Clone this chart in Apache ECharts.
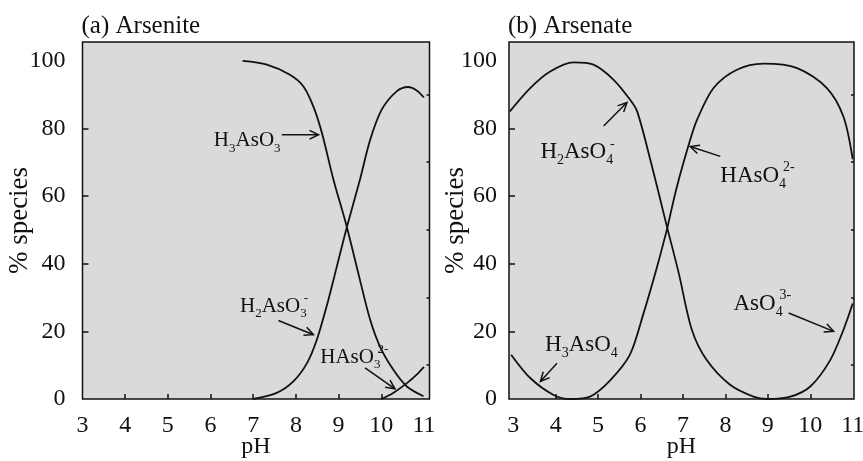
<!DOCTYPE html>
<html><head><meta charset="utf-8">
<script src="https://cdn.jsdelivr.net/npm/echarts@6/dist/echarts.min.js"></script>
<style>html,body{margin:0;padding:0;background:#fff}#c{width:863px;height:461px}</style>
</head><body><div id="c"></div>
<script>
const FONT = '"Liberation Serif", "Times New Roman", serif';
const INK = '#111';

// tick values
const xTickLabels = [3, 4, 5, 6, 7, 8, 9, 10, 11];
const xTickMarks = [4, 5, 6, 7, 8, 9, 10];
const yTickLabels = [0, 20, 40, 60, 80, 100];
const yMajorTicks = [20, 40, 60, 80];
const yMinorTicks = [10, 30, 50, 70, 90];

// (a) Arsenite  [pH, % species]
const h3aso3 = [[6.75,99.9],[7.32,98.8],[7.86,95.8],[8.18,92.3],[8.41,86.4],[8.61,78.6],[8.88,64.8],[9.19,51.0],[9.50,35.2],[9.74,23.4],[9.97,15.5],[10.28,8.7],[10.60,3.7],[10.99,0.8]];
const h2aso3 = [[7.0,0],[7.55,1.8],[7.94,5.2],[8.26,10.6],[8.49,17.5],[8.72,27.4],[8.96,39.2],[9.19,50.6],[9.50,64.8],[9.74,76.6],[10.01,85.5],[10.36,90.9],[10.63,92.2],[10.83,91.2],[11.0,89.1]];
const haso3 = [[10.0,0],[10.28,1.8],[10.6,4.7],[10.83,7.2],[11.0,9.5]];

// (b) Arsenate  [pH, % species]
const h2aso4 = [[2.92,85.0],[3.40,91.9],[3.87,96.8],[4.42,99.5],[4.89,98.8],[5.36,94.4],[5.75,88.5],[5.92,85.0],[6.23,70.7],[6.63,50.5]];
const haso4 = [[6.63,50.5],[6.86,62.9],[7.17,76.6],[7.33,82.5],[7.72,91.9],[8.27,97.3],[8.90,99.1],[9.69,97.8],[10.39,91.9],[10.78,83.5],[11.0,70.9]];
const h3aso4 = [[2.95,13.1],[3.40,6.2],[3.95,1.2],[4.34,0],[4.81,0.7],[5.29,5.6],[5.75,13.1],[6.07,25.3],[6.39,39.1],[6.63,50.5]];
const aso4 = [[6.63,50.5],[6.90,37.2],[7.21,20.4],[7.56,11.5],[8.11,4.2],[8.66,0.7],[8.98,0],[9.53,0.7],[10.0,3.7],[10.47,11.5],[10.78,20.4],[11.0,28.2]];

// species labels: tokens m = normal, s = subscript, p = superscript
const labelPanel = [0, 0, 0, 1, 1, 1, 1];
const labelText = [
  '{m|H}{s|3}{m|AsO}{s|3}',
  '{m|H}{s|2}{m|AsO}{s|3}{p|-}',
  '{m|HAsO}{s|3}{p|2-}',
  '{m|H}{s|2}{m|AsO}{s|4}{p|-}',
  '{m|HAsO}{s|4}{p|2-}',
  '{m|H}{s|3}{m|AsO}{s|4}',
  '{m|AsO}{s|4}{p|3-}'
];
const labelAt = [[7.64,76.3],[6.69,27.4],[8.57,12.3],[3.64,72.9],[7.88,66.0],[3.75,16.0],[8.19,28.2]];
const labelAlign = ['right','left','left','left','left','left','left'];
// arrows: tail -> head
const arrowPanel = [0, 0, 0, 1, 1, 1, 1];
const arrowFrom = [[7.67,78.1],[7.59,23.2],[9.62,9.2],[5.13,80.7],[7.88,71.7],[4.03,10.6],[9.49,25.4]];
const arrowTo = [[8.53,78.1],[8.41,19.0],[10.32,3.0],[5.68,87.6],[7.17,74.6],[3.64,5.2],[10.55,20.0]];

const panels = [
  {title: '(a) Arsenite', left: 82.5, width: 347, xmin: 3, xmax: 11.13, yLabelMargin: 17, nameGap: 49, labelSize: 21},
  {title: '(b) Arsenate', left: 509, width: 345, xmin: 2.9, xmax: 11.03, yLabelMargin: 12, nameGap: 40, labelSize: 23}
];

const chart = echarts.init(document.getElementById('c'));

const grids = panels.map(p => ({
  left: p.left, top: 42, width: p.width, height: 357,
  outerBoundsMode: 'none', containLabel: false,
  show: true, backgroundColor: '#dadada', borderColor: INK, borderWidth: 1.5
}));
const xAxes = panels.map((p, i) => ({
  type: 'value', gridIndex: i, min: p.xmin, max: p.xmax,
  axisLine: {show: false}, splitLine: {show: false},
  axisTick: {show: true, inside: true, length: 5, customValues: xTickMarks, lineStyle: {color: INK, width: 1.5}},
  axisLabel: {customValues: xTickLabels, margin: 15, fontSize: 24, fontFamily: FONT, color: INK},
  name: 'pH', nameLocation: 'middle', nameGap: 36, nameMoveOverlap: false,
  nameTextStyle: {fontSize: 24, fontFamily: FONT, color: INK}
}));
const yAxes = panels.map((p, i) => ({
  type: 'value', gridIndex: i, min: 0, max: 105.5,
  axisLine: {show: false}, splitLine: {show: false},
  axisTick: {show: true, inside: true, length: 6, customValues: yMajorTicks, lineStyle: {color: INK, width: 1.5}},
  axisLabel: {customValues: yTickLabels, margin: p.yLabelMargin, fontSize: 24, fontFamily: FONT, color: INK},
  name: '% species', nameLocation: 'middle', nameGap: p.nameGap, nameMoveOverlap: false,
  nameTextStyle: {fontSize: 27, fontFamily: FONT, color: INK}
})).concat(panels.map((p, i) => ({
  type: 'value', gridIndex: i, min: 0, max: 105.5,
  axisLine: {show: false}, splitLine: {show: false},
  axisTick: {show: true, inside: true, length: 3, customValues: yMinorTicks, lineStyle: {color: INK, width: 1.5}},
  axisLabel: {show: false}
})));

function line(data, g) {
  return {
    type: 'line', xAxisIndex: g, yAxisIndex: g, data: data,
    showSymbol: false, smooth: 0.3, silent: true,
    lineStyle: {color: INK, width: 1.8}
  };
}

chart.setOption({
  animation: false,
  title: panels.map(p => ({
    text: p.title, left: p.left - 1, top: 14, padding: 0,
    textStyle: {fontSize: 25, fontWeight: 'normal', fontFamily: FONT, color: INK}
  })),
  grid: grids,
  xAxis: xAxes,
  yAxis: yAxes,
  series: [
    line(h3aso3, 0), line(h2aso3, 0), line(haso3, 0),
    line(h2aso4, 1), line(haso4, 1), line(h3aso4, 1), line(aso4, 1)
  ]
});

// annotations: positions given in data units and converted through the axes
const ctx = document.createElement('canvas').getContext('2d');
function measure(txt, size) { ctx.font = size + 'px ' + FONT; return ctx.measureText(txt).width; }
function px(g, pt) { return chart.convertToPixel({xAxisIndex: g, yAxisIndex: g}, pt); }
const graphics = [];
for (let i = 0; i < labelText.length; i++) {
  const g = labelPanel[i];
  const fs = panels[g].labelSize;
  const ss = Math.round(fs * 0.62);
  const tokens = [];
  labelText[i].replace(/\{(\w)\|([^}]*)\}/g, (_, k, t) => { tokens.push([k, t]); return ''; });
  let x = 0, lastSubX = 0, lastSubW = 0;
  const placed = [];
  tokens.forEach(([k, t]) => {
    if (k === 'm') { const w = measure(t, fs); placed.push([k, t, x]); x += w; }
    else if (k === 's') { const w = measure(t, ss); placed.push([k, t, x]); lastSubX = x; lastSubW = w; x += w; }
    else { const sx = lastSubW ? lastSubX + lastSubW * 0.55 : x; const w = measure(t, ss); placed.push([k, t, sx]); x = Math.max(x, sx + w); }
  });
  const total = x;
  const a = px(g, labelAt[i]);
  const x0 = labelAlign[i] === 'right' ? a[0] - total : a[0];
  placed.forEach(([k, t, dx]) => {
    const size = k === 'm' ? fs : ss;
    const dy = k === 'm' ? 0 : (k === 's' ? fs * 0.36 : -fs * 0.36);
    graphics.push({
      type: 'text', silent: true, x: x0 + dx, y: a[1] + dy,
      style: {text: t, font: size + 'px ' + FONT, fill: INK, align: 'left', verticalAlign: 'middle'}
    });
  });
}
for (let i = 0; i < arrowFrom.length; i++) {
  const g = arrowPanel[i];
  const a = px(g, arrowFrom[i]);
  const b = px(g, arrowTo[i]);
  const ang = Math.atan2(b[1] - a[1], b[0] - a[0]);
  const L = 10, h = 0.45;
  const p1 = [b[0] - L * Math.cos(ang - h), b[1] - L * Math.sin(ang - h)];
  const p2 = [b[0] - L * Math.cos(ang + h), b[1] - L * Math.sin(ang + h)];
  graphics.push({type: 'line', silent: true, shape: {x1: a[0], y1: a[1], x2: b[0], y2: b[1]}, style: {stroke: INK, lineWidth: 1.5}});
  graphics.push({type: 'polyline', silent: true, shape: {points: [p1, b, p2]}, style: {stroke: INK, lineWidth: 1.5, fill: null}});
}
chart.setOption({graphic: graphics});
</script>
</body></html>
